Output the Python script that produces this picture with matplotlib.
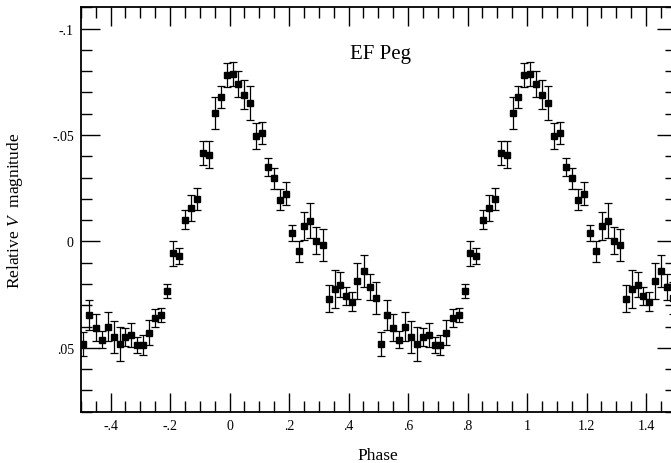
import matplotlib
matplotlib.use("Agg")
import matplotlib.pyplot as plt
from matplotlib.ticker import MultipleLocator, FuncFormatter
import numpy as np

# one cycle of the folded light curve (phase, relative V mag, error)
phase = [-0.491, -0.471, -0.450, -0.429, -0.410, -0.389, -0.369, -0.351, -0.331, -0.311,
         -0.292, -0.271, -0.250, -0.230, -0.210, -0.190, -0.170, -0.149, -0.129, -0.109,
         -0.089, -0.068, -0.048, -0.029, -0.009, 0.010, 0.029, 0.049, 0.070, 0.090,
         0.110, 0.130, 0.151, 0.171, 0.191, 0.211, 0.232, 0.252, 0.272, 0.292,
         0.313, 0.333, 0.353, 0.373, 0.390, 0.410, 0.430, 0.451, 0.471, 0.491]
mag = [0.0482, 0.0344, 0.0405, 0.0462, 0.0401, 0.0448, 0.0481, 0.0448, 0.0438, 0.0487,
       0.0487, 0.0429, 0.0359, 0.0344, 0.0233, 0.0055, 0.0068, -0.0101, -0.0158, -0.0200,
       -0.0416, -0.0407, -0.0604, -0.0679, -0.0781, -0.0787, -0.0740, -0.0688, -0.0651, -0.0496,
       -0.0510, -0.0350, -0.0297, -0.0195, -0.0224, -0.0039, 0.0046, -0.0072, -0.0097, -0.0003,
       0.0016, 0.0269, 0.0224, 0.0204, 0.0255, 0.0283, 0.0186, 0.0139, 0.0213, 0.0266]
err = [0.0056, 0.0070, 0.0065, 0.0039, 0.0069, 0.0076, 0.0080, 0.0043, 0.0056, 0.0037,
       0.0045, 0.0058, 0.0041, 0.0033, 0.0035, 0.0059, 0.0038, 0.0045, 0.0061, 0.0052,
       0.0058, 0.0064, 0.0074, 0.0050, 0.0056, 0.0055, 0.0061, 0.0068, 0.0079, 0.0061,
       0.0052, 0.0044, 0.0049, 0.0049, 0.0053, 0.0036, 0.0049, 0.0065, 0.0082, 0.0064,
       0.0076, 0.0063, 0.0090, 0.0058, 0.0042, 0.0045, 0.0084, 0.0075, 0.0062, 0.0074]
cycles = [0, 1]

plt.rcParams['font.family'] = ['Liberation Serif', 'DejaVu Serif']
plt.rcParams['mathtext.fontset'] = 'custom'
plt.rcParams['mathtext.rm'] = 'Liberation Serif'
plt.rcParams['mathtext.it'] = 'Liberation Serif:italic'

fig = plt.figure(figsize=(6.71, 4.64), dpi=100)
ax = fig.add_axes([0.1204, 0.1106, 0.8867, 0.8716])

for c in cycles:
    ax.errorbar(np.array(phase) + c, mag, yerr=err, fmt='s', color='black',
                ms=4.3, elinewidth=0.9, capsize=3, capthick=0.9, clip_on=True)

ax.set_xlim(-0.5, 1.5)
ax.set_ylim(0.08, -0.11)

def fmt(v, pos):
    if abs(v) < 1e-9:
        return "0"
    s = f"{v:g}"
    return s.replace("-0.", "-.") if s.startswith("-0.") else (s[1:] if s.startswith("0.") else s)

ax.xaxis.set_major_locator(MultipleLocator(0.2))
ax.xaxis.set_minor_locator(MultipleLocator(0.05))
ax.yaxis.set_major_locator(MultipleLocator(0.05))
ax.yaxis.set_minor_locator(MultipleLocator(0.01))
ax.xaxis.set_major_formatter(FuncFormatter(fmt))
ax.yaxis.set_major_formatter(FuncFormatter(fmt))

ax.tick_params(which='both', direction='in', top=True, right=True, labelsize=10, pad=5, width=1)
ax.tick_params(which='major', length=14)
ax.tick_params(which='minor', length=8)
for s in ax.spines.values():
    s.set_linewidth(1.3)

ax.set_xlabel("Phase", fontsize=12.5)
ax.set_ylabel("Relative $\\it{V}$  magnitude", fontsize=12.5)
ax.xaxis.set_label_coords(0.5, -0.088)
ax.yaxis.set_label_coords(-0.093, 0.5)

ax.text(0.503, 0.874, "EF Peg", transform=ax.transAxes, fontsize=15,
        ha='center', va='baseline')

fig.savefig("out.png", dpi=100)
